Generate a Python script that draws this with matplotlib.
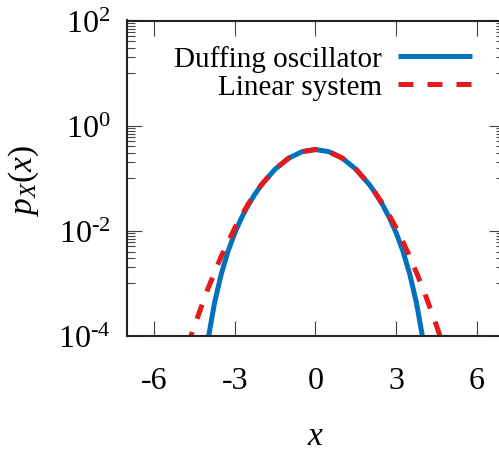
import matplotlib
matplotlib.use("Agg")
import numpy as np
import matplotlib.pyplot as plt
from matplotlib.ticker import FixedLocator, FixedFormatter, NullFormatter

# values
x_duff = [-4.0, -3.75, -3.5, -3.25, -3.0, -2.75, -2.5, -2.25, -2.0, -1.5, -1.0, -0.5, 0.0,
          0.5, 1.0, 1.5, 2.0, 2.25, 2.5, 2.75, 3.0, 3.25, 3.5, 3.75, 4.0]
p_duff = [8.0e-5, 4.20e-4, 1.49e-3, 4.02e-3, 8.95e-3, 1.738e-2, 3.05e-2, 4.94e-2, 7.52e-2, 0.148, 0.239, 0.318, 0.350,
          0.318, 0.239, 0.148, 7.52e-2, 4.94e-2, 3.05e-2, 1.738e-2, 8.95e-3, 4.02e-3, 1.49e-3, 4.20e-4, 8.0e-5]

x_lin = [-4.75, -4.5, -4.0, -3.5, -3.0, -2.5, -2.0, -1.5, -1.0, -0.5, 0.0,
         0.5, 1.0, 1.5, 2.0, 2.5, 3.0, 3.5, 4.0, 4.5, 4.75]
p_lin = [6.3e-5, 1.52e-4, 7.73e-4, 3.24e-3, 1.122e-2, 3.21e-2, 7.59e-2, 0.148, 0.239, 0.318, 0.350,
         0.318, 0.239, 0.148, 7.59e-2, 3.21e-2, 1.122e-2, 3.24e-3, 7.73e-4, 1.52e-4, 6.3e-5]

xticks = [-6, -3, 0, 3, 6]
xticklabels = ["-6", "-3", "0", "3", "6"]
yticks = [1e-4, 1e-2, 1e0, 1e2]
yticklabels = [r"$10^{\text{-}4}$", r"$10^{\text{-}2}$", r"$10^{0}$", r"$10^{2}$"]

plt.rcParams["font.family"] = "Liberation Serif"
plt.rcParams["mathtext.fontset"] = "custom"
plt.rcParams["mathtext.rm"] = "Liberation Serif"
plt.rcParams["mathtext.it"] = "Liberation Serif:italic"
plt.rcParams["axes.unicode_minus"] = False

fig = plt.figure(figsize=(4.99, 4.52), dpi=100)
ax = fig.add_axes([127/499, 115.3/452, 377/499, 315.2/452])

ax.plot(x_duff, p_duff, c="#0072bd", lw=3.6, solid_capstyle="butt", label="Duffing oscillator")
ax.plot(x_lin, p_lin, c="#e41a1c", lw=3.6, dashes=(3, 2.8), label="Linear system")

ax.set_yscale("log")
ax.axis([-7, 7, 1e-4, 1e2])

ax.xaxis.set_major_locator(FixedLocator(xticks))
ax.xaxis.set_major_formatter(FixedFormatter(xticklabels))
ax.yaxis.set_major_locator(FixedLocator(yticks))
ax.yaxis.set_major_formatter(FixedFormatter(yticklabels))
# gnuplot style minor tics: j * major/10
minors = [j * m / 10 for m in [1e-2, 1e0, 1e2] for j in range(1, 10)]
ax.yaxis.set_minor_locator(FixedLocator(minors))
ax.yaxis.set_minor_formatter(NullFormatter())
ax.xaxis.set_minor_locator(FixedLocator([]))

ax.tick_params(which="both", direction="in", top=True, right=True, width=0.8, color="#444444")
ax.tick_params(which="major", length=11, labelsize=23)
ax.tick_params(which="minor", length=5.5)
ax.tick_params(axis="x", pad=22)
ax.tick_params(axis="y", pad=12)
for s in ax.spines.values():
    s.set_linewidth(1.5)
    s.set_color("#222222")

ax.set_xlabel(r"$x$", fontsize=24, va="center")
ax.xaxis.set_label_coords(315/499, (452-437)/452, transform=fig.transFigure)
ax.set_ylabel(r"$p_X(x)$", fontsize=24, va="center")
ax.yaxis.set_label_coords(24/499, (452-180)/452, transform=fig.transFigure)

ax.legend(loc="upper right", bbox_to_anchor=(472/499, (452-46)/452), bbox_transform=fig.transFigure,
          frameon=False, fontsize=21, markerfirst=False, handlelength=2.55, handletextpad=0.55,
          borderpad=0, borderaxespad=0, labelspacing=0.05)

plt.savefig("out.png", dpi=100)
